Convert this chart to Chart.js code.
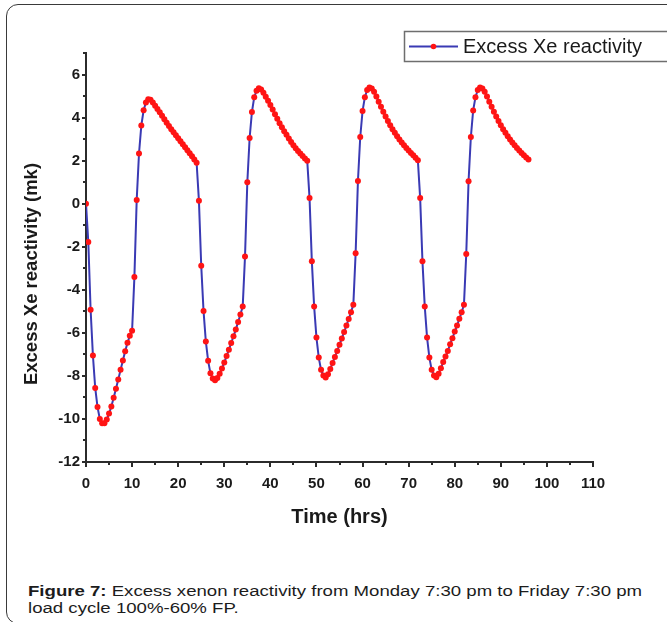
<!DOCTYPE html>
<html>
<head>
<meta charset="utf-8">
<title>Excess Xe reactivity</title>
<script src="https://cdn.jsdelivr.net/npm/chart.js@4.4.1/dist/chart.umd.min.js"></script>
<style>
  html, body { margin: 0; padding: 0; background: #fff; overflow: hidden; }
  body { width: 667px; height: 622px; position: relative; }
  #frame {
    position: absolute; left: 6px; top: 4px; width: 700px; height: 618px;
    border: 1.5px solid #3a3a3a; border-radius: 12px;
  }
  #chartBox { position: absolute; left: 0; top: 0; width: 667px; height: 540px; }
  #caption {
    position: absolute; left: 28px; top: 582px;
    font: 15.5px/17px "Liberation Sans", Arial, sans-serif; color: #1c1c1c;
    white-space: nowrap; transform: scaleX(1.2); transform-origin: 0 0;
  }
</style>
</head>
<body>
<div id="frame"></div>
<div id="chartBox"><canvas id="chart" width="667" height="540"></canvas></div>
<div id="caption"><b>Figure 7:</b> Excess xenon reactivity from Monday 7:30 pm to Friday 7:30 pm<br>load cycle 100%-60% FP.</div>

<script>
const seriesLabel = 'Excess Xe reactivity';
const yTitle = 'Excess Xe reactivity (mk)';

// time axis, one point every half hour (hrs)
const hours = [
  0, 0.5, 1, 1.5, 2, 2.5, 3, 3.5, 4, 4.5, 5, 5.5, 6, 6.5, 7, 7.5, 8, 8.5, 9, 9.5, 10, 10.5, 11, 11.5,
  12, 12.5, 13, 13.5, 14, 14.5, 15, 15.5, 16, 16.5, 17, 17.5, 18, 18.5, 19, 19.5, 20, 20.5, 21, 21.5, 22, 22.5, 23, 23.5,
  24, 24.5, 25, 25.5, 26, 26.5, 27, 27.5, 28, 28.5, 29, 29.5, 30, 30.5, 31, 31.5, 32, 32.5, 33, 33.5, 34, 34.5, 35, 35.5,
  36, 36.5, 37, 37.5, 38, 38.5, 39, 39.5, 40, 40.5, 41, 41.5, 42, 42.5, 43, 43.5, 44, 44.5, 45, 45.5, 46, 46.5, 47, 47.5,
  48, 48.5, 49, 49.5, 50, 50.5, 51, 51.5, 52, 52.5, 53, 53.5, 54, 54.5, 55, 55.5, 56, 56.5, 57, 57.5, 58, 58.5, 59, 59.5,
  60, 60.5, 61, 61.5, 62, 62.5, 63, 63.5, 64, 64.5, 65, 65.5, 66, 66.5, 67, 67.5, 68, 68.5, 69, 69.5, 70, 70.5, 71, 71.5,
  72, 72.5, 73, 73.5, 74, 74.5, 75, 75.5, 76, 76.5, 77, 77.5, 78, 78.5, 79, 79.5, 80, 80.5, 81, 81.5, 82, 82.5, 83, 83.5,
  84, 84.5, 85, 85.5, 86, 86.5, 87, 87.5, 88, 88.5, 89, 89.5, 90, 90.5, 91, 91.5, 92, 92.5, 93, 93.5, 94, 94.5, 95, 95.5,
  96
];

// excess Xe reactivity (mk), one array per day
const xeMonTue = [
  0, -1.78, -4.93, -7.05, -8.56, -9.45, -10.0, -10.2, -10.2, -10.02, -9.75, -9.42, -9.02, -8.6, -8.17, -7.72,
  -7.28, -6.86, -6.46, -6.14, -5.9, -3.41, 0.17, 2.33, 3.63, 4.34, 4.7, 4.85, 4.83, 4.7, 4.55, 4.4,
  4.25, 4.08, 3.92, 3.76, 3.61, 3.46, 3.32, 3.18, 3.04, 2.9, 2.76, 2.62, 2.48, 2.34, 2.2, 2.05
];
const xeTueWed = [
  1.9, 0.14, -2.88, -4.98, -6.4, -7.3, -7.88, -8.12, -8.2, -8.1, -7.9, -7.66, -7.38, -7.08, -6.78, -6.47,
  -6.16, -5.85, -5.5, -5.15, -4.78, -2.45, 1.0, 3.05, 4.26, 4.95, 5.25, 5.36, 5.3, 5.15, 4.97, 4.78,
  4.58, 4.37, 4.16, 3.95, 3.74, 3.55, 3.37, 3.2, 3.03, 2.87, 2.72, 2.58, 2.45, 2.33, 2.21, 2.1
];
const xeWedThu = [
  2.0, 0.26, -2.68, -4.78, -6.22, -7.15, -7.72, -7.98, -8.08, -7.92, -7.68, -7.4, -7.12, -6.84, -6.55, -6.26,
  -5.96, -5.66, -5.36, -5.04, -4.7, -2.3, 1.05, 3.1, 4.3, 4.95, 5.28, 5.4, 5.35, 5.2, 4.98, 4.74,
  4.5, 4.27, 4.05, 3.84, 3.64, 3.46, 3.29, 3.13, 2.98, 2.84, 2.71, 2.59, 2.47, 2.36, 2.25, 2.13
];
const xeThuFri = [
  2.02, 0.26, -2.68, -4.78, -6.22, -7.15, -7.72, -7.98, -8.06, -7.9, -7.64, -7.36, -7.1, -6.84, -6.53, -6.25,
  -5.94, -5.66, -5.35, -5.04, -4.7, -2.34, 1.04, 3.1, 4.33, 4.95, 5.28, 5.4, 5.35, 5.2, 4.98, 4.74,
  4.5, 4.27, 4.05, 3.84, 3.64, 3.46, 3.29, 3.13, 2.98, 2.84, 2.71, 2.59, 2.47, 2.36, 2.25, 2.15, 2.05
];

const minorXTicks = [5, 15, 25, 35, 45, 55, 65, 75, 85, 95, 105];
const minorYTicks = [-11, -9, -7, -5, -3, -1, 1, 3, 5, 7];

const FONT = '"Liberation Sans", Arial, sans-serif';
const AXIS_COLOR = '#2b2b2b';
const TEXT_COLOR = '#1a1a1a';
const LINE_COLOR = '#3a3ab4';
const MARKER_COLOR = '#ff1414';

const xeAll = xeMonTue.concat(xeTueWed, xeWedThu, xeThuFri);
const points = hours.map((h, i) => ({ x: h, y: xeAll[i] }));

// Origin-style short minor ticks between the labelled ones
const minorTicks = {
  id: 'minorTicks',
  afterDraw(chart) {
    const { ctx, scales: { x, y } } = chart;
    ctx.save();
    ctx.strokeStyle = AXIS_COLOR;
    ctx.lineWidth = 2;
    ctx.beginPath();
    minorYTicks.forEach(v => {
      const py = Math.round(y.getPixelForValue(v));
      ctx.moveTo(x.left - 3, py);
      ctx.lineTo(x.left, py);
    });
    minorXTicks.forEach(v => {
      const px = Math.round(x.getPixelForValue(v));
      ctx.moveTo(px, y.bottom);
      ctx.lineTo(px, y.bottom + 3);
    });
    ctx.stroke();
    ctx.restore();
  }
};

// y title sits a bit below the axis middle in the original
const yAxisTitle = {
  id: 'yAxisTitle',
  afterDraw(chart) {
    const ctx = chart.ctx;
    ctx.save();
    ctx.translate(32, 274);
    ctx.rotate(-Math.PI / 2);
    ctx.fillStyle = TEXT_COLOR;
    ctx.font = 'bold 18.5px ' + FONT;
    ctx.textAlign = 'center';
    ctx.textBaseline = 'middle';
    ctx.fillText(yTitle, 0, 0);
    ctx.restore();
  }
};

// boxed legend in the top right corner (runs off the edge like the scan)
const boxLegend = {
  id: 'boxLegend',
  afterDraw(chart) {
    const ds = chart.data.datasets[0];
    const ctx = chart.ctx;
    ctx.save();
    ctx.strokeStyle = '#6e6e6e';
    ctx.lineWidth = 1.5;
    ctx.strokeRect(404.5, 31.5, 300, 30);
    ctx.strokeStyle = ds.borderColor;
    ctx.lineWidth = 2;
    ctx.beginPath();
    ctx.moveTo(409, 46.5);
    ctx.lineTo(458, 46.5);
    ctx.stroke();
    ctx.fillStyle = ds.pointBackgroundColor;
    ctx.beginPath();
    ctx.arc(433.5, 46.5, 2.8, 0, Math.PI * 2);
    ctx.fill();
    ctx.fillStyle = TEXT_COLOR;
    ctx.font = '20px ' + FONT;
    ctx.textBaseline = 'middle';
    ctx.fillText(ds.label, 463, 47);
    ctx.restore();
  }
};

new Chart(document.getElementById('chart'), {
  type: 'line',
  data: {
    datasets: [{
      label: seriesLabel,
      data: points,
      borderColor: LINE_COLOR,
      borderWidth: 2,
      pointRadius: 3,
      pointBackgroundColor: MARKER_COLOR,
      pointBorderWidth: 0,
      tension: 0,
      fill: false
    }]
  },
  options: {
    responsive: false,
    animation: false,
    devicePixelRatio: 1,
    layout: { padding: { left: 0, right: 74, top: 53, bottom: 0 } },
    plugins: {
      legend: { display: false },
      tooltip: { enabled: false }
    },
    scales: {
      x: {
        type: 'linear',
        min: 0,
        max: 110,
        afterFit: (s) => { s.height = 78; },
        ticks: {
          stepSize: 10,
          maxRotation: 0,
          padding: 8,
          color: TEXT_COLOR,
          font: { family: FONT, size: 15, weight: 'bold' }
        },
        grid: { drawOnChartArea: false, drawTicks: true, tickLength: 5, color: AXIS_COLOR, lineWidth: 2 },
        border: { color: AXIS_COLOR, width: 2 },
        title: {
          display: true,
          text: 'Time (hrs)',
          color: TEXT_COLOR,
          font: { family: FONT, size: 20, weight: 'bold' },
          padding: { top: 0, bottom: 11 }
        }
      },
      y: {
        min: -12,
        max: 7,
        afterFit: (s) => { s.width = 86; },
        ticks: {
          stepSize: 2,
          includeBounds: false,
          padding: 2,
          color: TEXT_COLOR,
          font: { family: FONT, size: 15, weight: 'bold' }
        },
        grid: { drawOnChartArea: false, drawTicks: true, tickLength: 4, color: AXIS_COLOR, lineWidth: 2 },
        border: { color: AXIS_COLOR, width: 2 },
        title: { display: false }
      }
    }
  },
  plugins: [minorTicks, yAxisTitle, boxLegend]
});
</script>
</body>
</html>
